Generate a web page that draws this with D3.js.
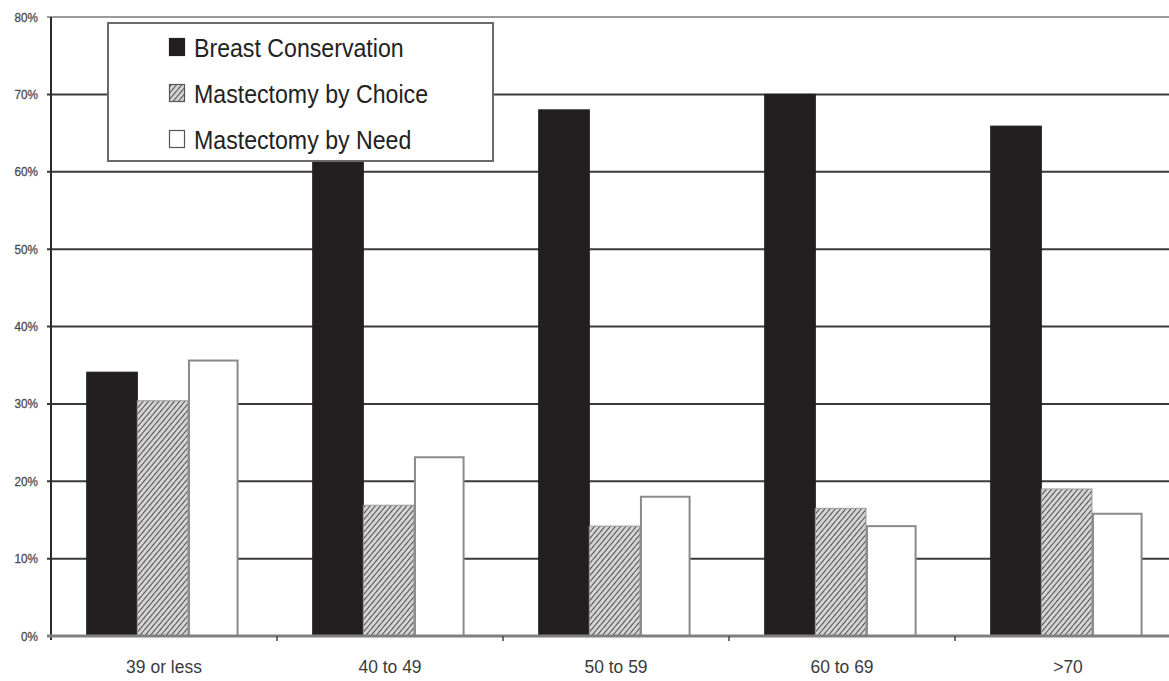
<!DOCTYPE html>
<html><head><meta charset="utf-8">
<script src="https://cdn.jsdelivr.net/npm/d3@7"></script>
<style>html,body{margin:0;padding:0;background:#fff;overflow:hidden}</style>
</head><body>
<svg id="chart" width="1169" height="681"></svg>
<script>
const categories = ["39 or less", "40 to 49", "50 to 59", "60 to 69", ">70"];
const seriesNames = ["Breast Conservation", "Mastectomy by Choice", "Mastectomy by Need"];
const breastConservation = [34.1, 64, 68, 70, 65.9];
const mastectomyChoice = [30.4, 16.9, 14.2, 16.5, 19.0];
const mastectomyNeed = [35.6, 23.1, 18, 14.2, 15.8];
const yTicks = [0, 10, 20, 30, 40, 50, 60, 70, 80];

const seriesValues = [breastConservation, mastectomyChoice, mastectomyNeed];
const svg = d3.select("#chart");
const plotLeft = 51, plotRight = 1181, plotTop = 17, plotBottom = 636;
const FONT = "Liberation Sans, Arial, sans-serif";

const defs = svg.append("defs");
const pat = defs.append("pattern").attr("id", "hatch").attr("patternUnits", "userSpaceOnUse")
  .attr("width", 4).attr("height", 4).attr("patternTransform", "rotate(40)");
pat.append("rect").attr("width", 4).attr("height", 4).attr("fill", "#d4d4d4");
pat.append("line").attr("x1", 0).attr("y1", 0).attr("x2", 0).attr("y2", 4)
  .attr("stroke", "#505050").attr("stroke-width", 2);

const y = d3.scaleLinear().domain([0, 80]).range([plotBottom, plotTop]);
const x0 = d3.scaleBand().domain(categories).range([plotLeft, plotRight]).padding(0);
const bw = x0.bandwidth();
const x1 = d3.scaleBand().domain(seriesNames).range([bw * 0.158, bw * 0.83]).padding(0);

// gridlines
svg.append("g").selectAll("line").data(yTicks.filter(d => d > 0)).join("line")
  .attr("x1", plotLeft - 4).attr("x2", 1169).attr("y1", d => y(d)).attr("y2", d => y(d))
  .attr("stroke", d => d === 80 ? "#9a9a9a" : "#3a3a3a").attr("stroke-width", 2);

// y axis labels
svg.append("g").selectAll("text").data(yTicks).join("text")
  .attr("transform", d => `translate(38,${y(d) + 4.6}) scale(0.9,1)`).attr("text-anchor", "end")
  .attr("font-family", FONT).attr("font-size", 13)
  .attr("fill", "#4a4a4a").attr("stroke", "#4a4a4a").attr("stroke-width", 0.3)
  .text(d => d + "%");

// bars
const fills = ["#231f20", "url(#hatch)", "#ffffff"];
const strokes = ["#231f20", "#9a9a9a", "#8a8a8a"];
const groups = svg.append("g").selectAll("g").data(categories).join("g")
  .attr("transform", d => `translate(${x0(d)},0)`);
groups.selectAll("rect").data((c, i) => seriesNames.map((s, j) => ({ s, j, v: seriesValues[j][i] })))
  .join("rect")
  .attr("x", d => x1(d.s) + (d.j === 2 ? 1 : 0))
  .attr("width", d => x1.bandwidth() - (d.j === 2 ? 2 : 0))
  .attr("y", d => y(d.v))
  .attr("height", d => plotBottom - y(d.v))
  .attr("fill", d => fills[d.j])
  .attr("stroke", d => strokes[d.j])
  .attr("stroke-width", d => d.j === 2 ? 2 : 1);

// y axis line
svg.append("line").attr("x1", plotLeft).attr("x2", plotLeft).attr("y1", plotTop).attr("y2", plotBottom + 4)
  .attr("stroke", "#2a2a2a").attr("stroke-width", 2);
// x axis line
svg.append("line").attr("x1", plotLeft - 4).attr("x2", 1169).attr("y1", plotBottom).attr("y2", plotBottom)
  .attr("stroke", "#808080").attr("stroke-width", 3);
// category tick marks
svg.append("g").selectAll("line").data(categories.slice(1)).join("line")
  .attr("x1", d => x0(d)).attr("x2", d => x0(d)).attr("y1", plotBottom).attr("y2", plotBottom + 5)
  .attr("stroke", "#444").attr("stroke-width", 1.5);

// x labels
svg.append("g").selectAll("text").data(categories).join("text")
  .attr("transform", d => `translate(${x0(d) + bw * 0.5},673) scale(0.92,1)`).attr("text-anchor", "middle")
  .attr("font-family", FONT).attr("font-size", 19)
  .attr("fill", "#3a3a3a").text(d => d);

// legend
const lg = svg.append("g");
lg.append("rect").attr("x", 108).attr("y", 23).attr("width", 385).attr("height", 138)
  .attr("fill", "#fff").attr("stroke", "#6a6a6a").attr("stroke-width", 2);
const items = lg.selectAll("g").data(seriesNames).join("g")
  .attr("transform", (d, i) => `translate(169,${47 + i * 46})`);
items.append("rect").attr("x", 0.5).attr("y", -8.5).attr("width", 15).attr("height", 17)
  .attr("fill", (d, i) => fills[i]).attr("stroke", (d, i) => i === 0 ? "#231f20" : "#555").attr("stroke-width", 1.2);
items.append("text").attr("transform", "translate(25,9.5) scale(0.89,1)")
  .attr("font-family", FONT).attr("font-size", 26)
  .attr("fill", "#222").text(d => d);
</script>
</body></html>
